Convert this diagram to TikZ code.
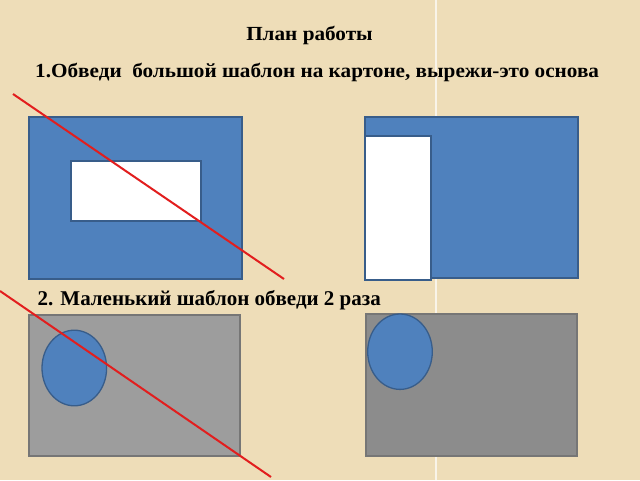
\documentclass[tikz,border=0pt]{standalone}
\usepackage{fontspec}
\setmainfont{Liberation Serif}
\definecolor{paper}{RGB}{238,221,184}
\definecolor{tplblue}{RGB}{79,129,189}
\definecolor{tpledge}{RGB}{56,93,138}
\definecolor{cardlight}{RGB}{157,157,157}
\definecolor{carddark}{RGB}{140,140,140}
\definecolor{cardedge}{RGB}{118,118,118}
\definecolor{cutred}{RGB}{226,30,30}
\begin{document}
\begin{tikzpicture}[x=1pt,y=1pt]
\tikzstyle{every node}+=[inner sep=0pt]
\tikzstyle{label}=[font=\fontsize{20}{22}\bfseries\selectfont, text=black, xscale=1.06]
\tikzstyle{tpl}=[fill=tplblue, draw=tpledge, line width=1.3pt]
\tikzstyle{hole}=[fill=white, draw=tpledge, line width=1.3pt]
\tikzstyle{card}=[draw=cardedge, line width=1.3pt]
\tikzstyle{cut}=[draw=cutred, line width=2pt]
% background
\fill [paper] (0,0) rectangle (640,-480);
\useasboundingbox (0,0) rectangle (640,-480);
\draw [white, opacity=0.7, line width=1.2pt] (436,0) -- (436,-480);
% headings
\node [label, anchor=base] (title) at (309.5,-40.7) {План работы};
\node [label, anchor=base west] (step1) at (35,-77) {1.Обведи\ \ большой шаблон на картоне, вырежи-это основа};
\node [label, font=\fontsize{21}{23}\bfseries\selectfont, xscale=1/1.06, anchor=base west] (step2) at (37.5,-305.7) {2. Маленький шаблон обведи 2 раза};
% big template, hole in the middle
\draw [tpl] (29,-117) rectangle (242,-279);
\draw [hole] (71,-161) rectangle (201,-221);
% big template, hole at the side
\draw [tpl] (365,-117) rectangle (578,-278);
\draw [hole] (365,-136) rectangle (431,-280);
% cards with the small template
\draw [card, fill=cardlight] (29,-315) rectangle (240,-456);
\draw [tpl] (74.3,-368) ellipse (32.3 and 37.8);
\draw [card, fill=carddark] (366,-314) rectangle (577,-456);
\draw [tpl] (400,-351.7) ellipse (32.3 and 37.7);
% crossed out
\coordinate (c1) at (13,-94);
\coordinate (c2) at (284,-279);
\coordinate (c3) at (0,-291);
\coordinate (c4) at (271,-477);
\draw [cut] (c1) -- (c2);
\draw [cut] (c3) -- (c4);
\end{tikzpicture}
\end{document}
